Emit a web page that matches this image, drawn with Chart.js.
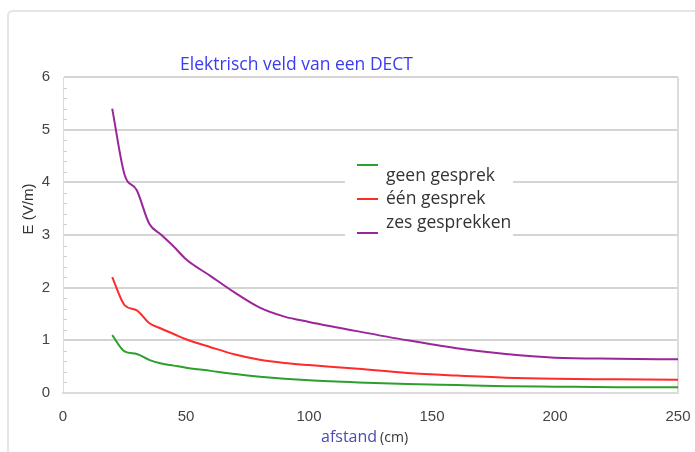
<!DOCTYPE html>
<html>
<head>
<meta charset="utf-8">
<script src="https://cdn.jsdelivr.net/npm/chart.js@4/dist/chart.umd.min.js"></script>
<style>
  html, body { margin: 0; padding: 0; background: #fff; }
  #wrap { width: 695px; height: 452px; position: relative; }
</style>
</head>
<body>
<div id="wrap"><canvas id="dectChart" width="695" height="452"></canvas></div>
<script>
// ── Elektrisch veld van een DECT ──
const afstand = [20, 25, 30, 35, 40, 45, 50, 60, 70, 80, 90, 100, 120, 140, 160, 180, 200, 225, 250];
const geenGesprek = [1.1, 0.79, 0.74, 0.63, 0.56, 0.52, 0.48, 0.42, 0.36, 0.31, 0.27, 0.24, 0.2, 0.17, 0.15, 0.13, 0.12, 0.11, 0.11];
const eenGesprek = [2.2, 1.67, 1.57, 1.33, 1.22, 1.12, 1.02, 0.87, 0.73, 0.63, 0.57, 0.53, 0.46, 0.38, 0.33, 0.29, 0.27, 0.26, 0.25];
const zesGesprekken = [5.4, 4.15, 3.85, 3.22, 3.0, 2.78, 2.54, 2.22, 1.9, 1.62, 1.45, 1.35, 1.17, 1.0, 0.85, 0.74, 0.67, 0.65, 0.64];
const seriesNames = ['geen gesprek', 'één gesprek', 'zes gesprekken'];
const seriesColors = ['#2ca02c', '#ff2a2a', '#9b259b'];
const xTicks = [0, 50, 100, 150, 200, 250];
const yTicks = [0, 1, 2, 3, 4, 5, 6];

const toPoints = arr => arr.map((v, i) => ({ x: afstand[i], y: v }));

// frame, title, axis titles, minor ticks, legend
const decorPlugin = {
  id: 'decor',
  beforeDraw(chart) {
    const { ctx } = chart;
    ctx.save();
    ctx.strokeStyle = '#e6e6e6';
    ctx.lineWidth = 2;
    ctx.beginPath();
    ctx.moveTo(8, 452);
    ctx.lineTo(8, 16);
    ctx.quadraticCurveTo(8, 11, 13, 11);
    ctx.lineTo(695, 11);
    ctx.stroke();
    ctx.restore();
  },
  beforeDatasetsDraw(chart) {
    const { ctx, chartArea: a, scales } = chart;
    ctx.save();
    // plot border right
    ctx.strokeStyle = '#dcdcdc';
    ctx.lineWidth = 2;
    ctx.beginPath();
    ctx.moveTo(a.right, a.top);
    ctx.lineTo(a.right, a.bottom);
    ctx.stroke();
    // minor ticks on y axis every 0.2
    ctx.strokeStyle = '#cfcfcf';
    ctx.lineWidth = 1;
    for (let v = 0.2; v < 6; v += 0.2) {
      if (Math.abs(v - Math.round(v)) < 0.01) continue;
      const y = Math.round(scales.y.getPixelForValue(v)) + 0.5;
      ctx.beginPath();
      ctx.moveTo(a.left, y);
      ctx.lineTo(a.left + 4, y);
      ctx.stroke();
    }
    // legend background (breaks the gridlines)
    ctx.fillStyle = '#fff';
    ctx.fillRect(345, 150, 168, 96);
    ctx.restore();
  },
  afterDraw(chart) {
    const { ctx } = chart;
    ctx.save();
    // title
    ctx.fillStyle = '#3b3bf0';
    ctx.font = '17.5px "Open Sans"';
    ctx.textBaseline = 'middle';
    ctx.textAlign = 'left';
    ctx.fillText('Elektrisch veld van een DECT', 180, 65);
    // y title
    ctx.fillStyle = '#333';
    ctx.font = '15px "Liberation Sans"';
    ctx.translate(29, 209);
    ctx.rotate(-Math.PI / 2);
    ctx.textAlign = 'center';
    ctx.fillText('E (V/m)', 0, 0);
    ctx.setTransform(1, 0, 0, 1, 0, 0);
    // x title
    ctx.textAlign = 'left';
    ctx.font = '16px "Open Sans"';
    ctx.fillStyle = '#4a4ab4';
    ctx.fillText('afstand', 321, 437);
    const w = ctx.measureText('afstand').width;
    ctx.font = '14px "Open Sans"';
    ctx.fillStyle = '#333';
    ctx.fillText('(cm)', 321 + w + 3, 438);
    // legend
    const ys = [[165, 176], [199, 199], [233, 223]];
    chart.data.datasets.forEach((ds, i) => {
      ctx.strokeStyle = ds.borderColor;
      ctx.lineWidth = 2;
      ctx.beginPath();
      ctx.moveTo(357, ys[i][0]);
      ctx.lineTo(378, ys[i][0]);
      ctx.stroke();
      ctx.fillStyle = '#333';
      ctx.font = '17.5px "Open Sans"';
      ctx.fillText(ds.label, 386, ys[i][1]);
    });
    ctx.restore();
  }
};

new Chart(document.getElementById('dectChart').getContext('2d'), {
  type: 'line',
  data: {
    datasets: [
      { label: seriesNames[0], data: toPoints(geenGesprek), borderColor: seriesColors[0] },
      { label: seriesNames[1], data: toPoints(eenGesprek), borderColor: seriesColors[1] },
      { label: seriesNames[2], data: toPoints(zesGesprekken), borderColor: seriesColors[2] }
    ].map(d => Object.assign(d, { borderWidth: 2, pointRadius: 0, fill: false, cubicInterpolationMode: 'monotone' }))
  },
  options: {
    responsive: false,
    animation: false,
    layout: { padding: { left: 0, right: 17, top: 77, bottom: 0 } },
    plugins: { legend: { display: false }, tooltip: { enabled: false } },
    scales: {
      x: {
        type: 'linear', min: 0, max: 250,
        afterBuildTicks: s => { s.ticks = xTicks.map(v => ({ value: v })); },
        afterFit: s => { s.height = 59; s.paddingLeft = 0; s.paddingRight = 0; },
        grid: { display: false, drawTicks: false },
        border: { color: '#dcdcdc', width: 2 },
        ticks: { color: '#444', font: { family: 'Liberation Sans', size: 15 }, padding: 15 }
      },
      y: {
        min: 0, max: 6,
        afterBuildTicks: s => { s.ticks = yTicks.map(v => ({ value: v })); },
        afterFit: s => { s.width = 63; s.paddingTop = 0; s.paddingBottom = 0; },
        grid: { color: '#d4d4d4', lineWidth: 2, drawTicks: false },
        border: { color: '#dcdcdc', width: 1 },
        ticks: { color: '#444', font: { family: 'Liberation Sans', size: 15 }, padding: 13 }
      }
    }
  },
  plugins: [decorPlugin]
});
</script>
</body>
</html>
